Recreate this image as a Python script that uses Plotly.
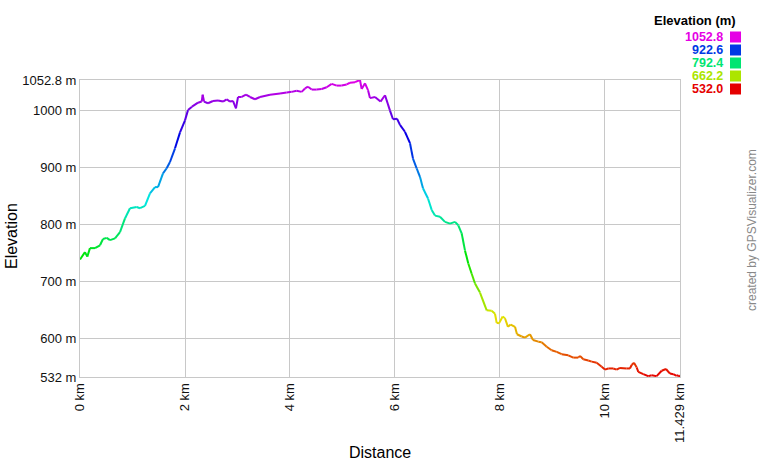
import colorsys
import plotly.graph_objects as go

# ── DATA ──────────────────────────────────────────────────────────
DIST_KM = [
    0.000, 0.095, 0.139, 0.190, 0.286, 0.381, 0.438, 0.509, 0.571, 0.667,
    0.762, 0.857, 0.952, 1.080, 1.143, 1.238, 1.333, 1.429, 1.486, 1.581,
    1.651, 1.714, 1.810, 1.905, 2.000, 2.057, 2.133, 2.248, 2.318, 2.337,
    2.362, 2.438, 2.533, 2.629, 2.724, 2.794, 2.857, 2.914, 2.971, 3.010,
    3.080, 3.162, 3.238, 3.333, 3.429, 3.619, 3.810, 3.937, 4.032, 4.127,
    4.222, 4.286, 4.343, 4.413, 4.508, 4.603, 4.699, 4.794, 4.890, 4.984,
    5.080, 5.143, 5.238, 5.333, 5.366, 5.429, 5.486, 5.524, 5.619, 5.724,
    5.810, 5.905, 5.962, 6.038, 6.095, 6.190, 6.286, 6.343, 6.413, 6.476,
    6.533, 6.629, 6.699, 6.762, 6.857, 6.952, 7.048, 7.143, 7.206, 7.270,
    7.333, 7.396, 7.461, 7.524, 7.619, 7.747, 7.842, 7.905, 7.937, 7.981,
    8.051, 8.095, 8.152, 8.204, 8.286, 8.324, 8.413, 8.476, 8.571, 8.629,
    8.730, 8.794, 8.890, 8.984, 9.080, 9.175, 9.301, 9.396, 9.491, 9.524,
    9.587, 9.682, 9.747, 9.842, 9.937, 10.000, 10.063, 10.158, 10.222, 10.286,
    10.413, 10.476, 10.508, 10.552, 10.603, 10.635, 10.730, 10.825, 10.889, 10.984,
    11.080, 11.162, 11.238, 11.301, 11.365, 11.396, 11.429,
]
ELEV_M = [
    738, 751, 743, 758, 758, 763, 774, 776, 772, 775,
    786, 810, 828, 830, 828, 832, 854, 865, 865, 889,
    898, 909, 933, 961, 982, 1000, 1006, 1013, 1015, 1027,
    1015, 1012, 1016, 1017, 1015, 1019, 1015, 1016, 1003, 1023,
    1023, 1027, 1023, 1019, 1023, 1027, 1029, 1031, 1032, 1034,
    1032, 1038, 1041, 1036, 1036, 1037, 1040, 1046, 1043, 1043,
    1045, 1048, 1049, 1052.8, 1037, 1047, 1035, 1021, 1023, 1015,
    1026, 999, 984, 985, 974, 962, 942, 915, 898, 883,
    863, 845, 825, 815, 813, 804, 801, 804, 798, 784,
    754, 731, 713, 696, 680, 649, 648, 643, 627, 626,
    638, 635, 620, 624, 620, 607, 603, 601, 607, 597,
    594, 593, 585, 579, 576, 572, 570, 566, 566, 569,
    563, 561, 559, 557, 550, 545, 547, 547, 545, 548,
    547, 547, 553, 557, 549, 541, 537, 533.5, 535, 533.5,
    543, 546, 538, 537, 534, 535, 532,
]

X_TICKS = [0, 2, 4, 6, 8, 10, 11.429]
X_TICK_TEXT = ["0 km", "2 km", "4 km", "6 km", "8 km", "10 km", "11.429 km"]
Y_TICKS = [532, 600, 700, 800, 900, 1000, 1052.8]
Y_TICK_TEXT = ["532 m", "600 m", "700 m", "800 m", "900 m", "1000 m", "1052.8 m"]
LEGEND_VALUES = [1052.8, 922.6, 792.4, 662.2, 532.0]

E_MIN, E_MAX = min(ELEV_M), max(ELEV_M)
GRID = "#c8c8c8"
FONT = "Liberation Sans, Arial, sans-serif"

# plot box in page pixels: x 80..680, y 80..377
L, R, T, B = 80, 80, 80, 83
PLOT_W = 760 - L - R
PLOT_H = 460 - T - B


def elev_color(e):
    # red (low) -> magenta (high) around the hue wheel
    h = (e - E_MIN) / (E_MAX - E_MIN) * 300 / 360
    r, g, b = colorsys.hsv_to_rgb(h, 1.0, 0.9)
    return f"rgb({int(r*255)},{int(g*255)},{int(b*255)})"


def px(pix):
    # page pixel column -> paper x
    return (pix - L) / PLOT_W


def py(pix):
    # page pixel row -> paper y
    return (T + PLOT_H - pix) / PLOT_H


# ── SEGMENTS GROUPED BY COLOUR BIN ────────────────────────────────
N_BINS = 80
bins = {}
for i in range(len(DIST_KM) - 1):
    mid = (ELEV_M[i] + ELEV_M[i + 1]) / 2
    k = min(N_BINS - 1, int((mid - E_MIN) / (E_MAX - E_MIN) * N_BINS))
    xs, ys = bins.setdefault(k, ([], []))
    xs += [DIST_KM[i], DIST_KM[i + 1], None]
    ys += [ELEV_M[i], ELEV_M[i + 1], None]

fig = go.Figure()
for k, (xs, ys) in sorted(bins.items()):
    e = E_MIN + (k + 0.5) / N_BINS * (E_MAX - E_MIN)
    fig.add_trace(go.Scatter(
        x=xs, y=ys, mode="lines",
        line=dict(color=elev_color(e), width=2),
        showlegend=False, hoverinfo="skip",
    ))

# ── LEGEND, TITLES, CREDIT ────────────────────────────────────────
annotations = [
    dict(text="<b>Elevation (m)</b>", x=px(738), y=py(20.5), xanchor="right",
         yanchor="middle", font=dict(size=13, color="#000")),
    dict(text="created by GPSVisualizer.com", x=px(752), y=py(230),
         textangle=-90, xanchor="center", yanchor="middle",
         font=dict(size=12, color="#888")),
    dict(text="Elevation", x=px(11), y=py(236), textangle=-90,
         xanchor="center", yanchor="middle", font=dict(size=16, color="#000")),
    dict(text="Distance", x=px(380), y=py(452), xanchor="center",
         yanchor="middle", font=dict(size=16, color="#000")),
]
shapes = []
for j, v in enumerate(LEGEND_VALUES):
    row = 37 + 13 * j
    c = elev_color(v)
    annotations.append(dict(
        text=f"<b>{v:.1f}</b>", x=px(725), y=py(row), xanchor="right",
        yanchor="middle", font=dict(size=12.5, color=c),
    ))
    shapes.append(dict(
        type="rect", xref="paper", yref="paper",
        x0=px(730), x1=px(741), y0=py(row + 5.5), y1=py(row - 5.5),
        fillcolor=c, line=dict(width=0),
    ))

for a in annotations:
    a.update(xref="paper", yref="paper", showarrow=False)

fig.update_layout(
    width=760, height=460,
    margin=dict(l=L, r=R, t=T, b=B),
    plot_bgcolor="#FFFFFF", paper_bgcolor="#FFFFFF",
    font=dict(family=FONT, size=13, color="#111"),
    annotations=annotations, shapes=shapes,
)
fig.update_xaxes(
    range=[0, 11.429], tickvals=X_TICKS, ticktext=X_TICK_TEXT,
    tickangle=-90, showgrid=True, gridcolor=GRID, gridwidth=1,
    showline=True, linecolor=GRID, mirror=True, zeroline=False,
    tickfont=dict(size=13),
)
fig.update_yaxes(
    range=[532, 1052.8], tickvals=Y_TICKS, ticktext=Y_TICK_TEXT,
    showgrid=True, gridcolor=GRID, gridwidth=1,
    showline=True, linecolor=GRID, mirror=True, zeroline=False,
    tickfont=dict(size=13),
)

# drop the browser's default 8px page margin so the figure fills the window
fig.write_html(
    "out.html",
    config={"displayModeBar": False},
    post_script="document.body.style.margin = '0';",
)
